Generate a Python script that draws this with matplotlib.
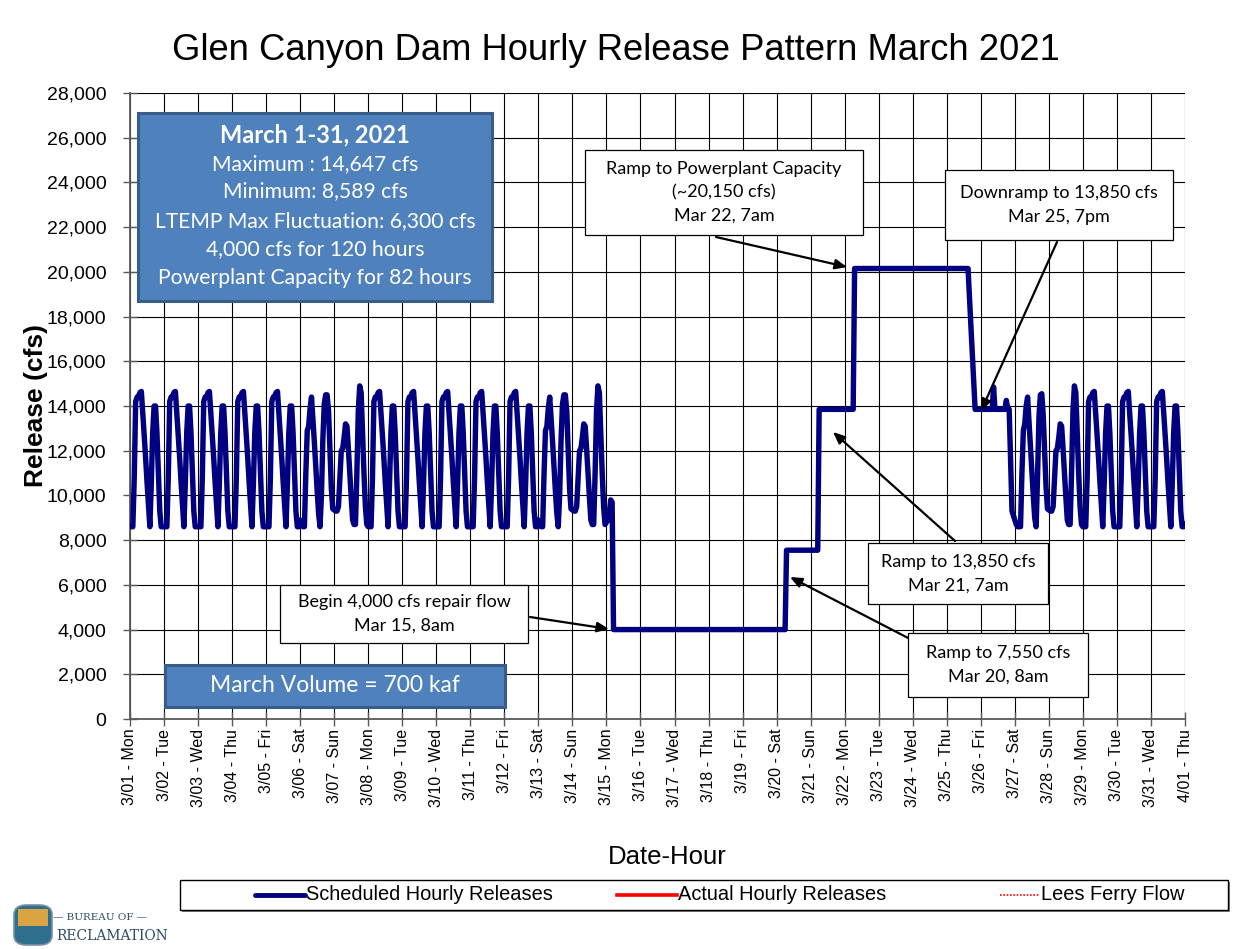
import numpy as np
import matplotlib
matplotlib.use("Agg")
import matplotlib.pyplot as plt
from matplotlib.patches import Rectangle, FancyBboxPatch
from matplotlib.lines import Line2D
from matplotlib import font_manager

W, H = 1250, 949

# ---------------- data ----------------
day_labels = ["3/01 - Mon", "3/02 - Tue", "3/03 - Wed", "3/04 - Thu", "3/05 - Fri",
              "3/06 - Sat", "3/07 - Sun", "3/08 - Mon", "3/09 - Tue", "3/10 - Wed",
              "3/11 - Thu", "3/12 - Fri", "3/13 - Sat", "3/14 - Sun", "3/15 - Mon",
              "3/16 - Tue", "3/17 - Wed", "3/18 - Thu", "3/19 - Fri", "3/20 - Sat",
              "3/21 - Sun", "3/22 - Mon", "3/23 - Tue", "3/24 - Wed", "3/25 - Thu",
              "3/26 - Fri", "3/27 - Sat", "3/28 - Sun", "3/29 - Mon", "3/30 - Tue",
              "3/31 - Wed", "4/01 - Thu"]
y_ticks = list(range(0, 28001, 2000))

# hourly scheduled releases (cfs), hours 0..23
weekday = [8600, 8600, 8600, 10800, 14200, 14400, 14400, 14600, 14650, 13700, 12700, 11700,
           10600, 9600, 8600, 10500, 12800, 14000, 14000, 12800, 11000, 9300, 8600, 8600]
saturday = [8900, 8700, 8600, 8600, 11000, 12900, 13100, 13900, 14400, 13400, 12400, 11300,
            10200, 9200, 8600, 10000, 12500, 14100, 14500, 14500, 13800, 12000, 10300, 9400]
sunday = [9350, 9300, 9300, 9500, 10800, 12000, 12100, 12600, 13200, 13100, 12100, 11000,
          9900, 8900, 8700, 8700, 11000, 13800, 14900, 14600, 12800, 11000, 9500, 8700]
mar15 = [8800, 8900, 9200, 9800, 9700, 4000, 4000, 4000, 4000, 4000, 4000, 4000,
         4000, 4000, 4000, 4000, 4000, 4000, 4000, 4000, 4000, 4000, 4000, 4000]
repair_day = [4000] * 24
mar20 = [4000] * 7 + [7550] * 17
mar21 = [7550] * 6 + [13850] * 18
mar22 = [13850] * 7 + [20150] * 17
capacity_day = [20150] * 24
mar25 = [20150] * 16 + [18900, 17600, 16300, 15100, 13850, 13850, 13850, 13850]
mar26 = [13850, 13850, 13850, 13850, 13850, 13850, 13850, 13850, 13850, 14850, 13850, 13850,
         13850, 13850, 13850, 13850, 13850, 13850, 14250, 13900, 13850, 11500, 9300, 9100]
mar27 = [8900, 8700, 8600, 8600, 8600, 11000, 12900, 13200, 14000, 14400, 13300, 12200,
         11100, 10000, 9000, 8600, 10800, 13500, 14500, 14550, 13600, 12000, 10400, 9400]
apr01_midnight = [8700]

daily_schedule = ([weekday] * 5 + [saturday, sunday] + [weekday] * 5 + [saturday, sunday] +
                  [mar15] + [repair_day] * 4 + [mar20, mar21, mar22] + [capacity_day] * 2 +
                  [mar25, mar26, mar27, sunday] + [weekday] * 3)

releases = np.concatenate([np.array(d, dtype=float) for d in daily_schedule] +
                          [np.array(apr01_midnight, dtype=float)])
hours = np.arange(len(releases))
days = hours / 24.0

legend_labels = ["Scheduled Hourly Releases", "Actual Hourly Releases", "Lees Ferry Flow"]

# ---------------- fonts ----------------
def has_font(name):
    try:
        font_manager.findfont(name, fallback_to_default=False)
        return True
    except Exception:
        return False

ARIAL = "Liberation Sans"
CAL = "Lato" if has_font("Lato") else "DejaVu Sans"
plt.rcParams["font.family"] = [ARIAL, "DejaVu Sans"]

def fx(px):
    return px / W

def fy(py):
    return 1 - py / H

# ---------------- figure ----------------
fig = plt.figure(figsize=(W / 100, H / 100), dpi=100)
fig.patch.set_facecolor("white")

ax = fig.add_axes([fx(130), fy(719), (1185 - 130) / W, (719 - 93) / H])
ax.plot(days, releases, color="#000080", lw=3.9, solid_joinstyle="round", zorder=3)

ax.set_xlim(0, 31)
ax.set_ylim(0, 28000)
ax.set_xticks(range(len(day_labels)))
ax.set_xticklabels(day_labels, rotation=90, fontsize=11.5)
ax.set_yticks(y_ticks)
ax.set_yticklabels([f"{v:,}" for v in y_ticks], fontsize=14)
ax.grid(True, color="black", lw=0.8, zorder=1)
ax.set_axisbelow(True)
for s in ["top", "right"]:
    ax.spines[s].set_visible(False)
for s in ["left", "bottom"]:
    ax.spines[s].set_color("#595959")
    ax.spines[s].set_linewidth(1.3)
ax.tick_params(axis="both", direction="inout", length=10, width=1, color="#595959")
ax.tick_params(axis="x", pad=2)
ax.tick_params(axis="y", pad=12)
ax.set_ylabel("Release (cfs)", fontsize=19, fontweight="bold", labelpad=-1)

fig.text(fx(616), fy(50), "Glen Canyon Dam Hourly Release Pattern March 2021",
         ha="center", va="center", fontsize=26.2)
fig.text(fx(667), fy(857), "Date-Hour", ha="center", va="center", fontsize=18.5)

# ---------------- summary box ----------------
blue = "#4F81BD"
fig.patches.append(Rectangle((fx(138), fy(301)), fx(492) - fx(138), fy(113) - fy(301),
                             transform=fig.transFigure, facecolor=blue, edgecolor="#385D8A",
                             lw=2.2, zorder=5))
box_lines = [("March 1-31, 2021", 135, "bold", 17),
             ("Maximum : 14,647 cfs", 164, "normal", 15.2),
             ("Minimum: 8,589 cfs", 191, "normal", 15.2),
             ("LTEMP Max Fluctuation: 6,300 cfs", 221, "normal", 15.2),
             ("4,000 cfs for 120 hours", 249, "normal", 15.2),
             ("Powerplant Capacity for 82 hours", 278, "normal", 15.2)]
for txt, py, wt, fs in box_lines:
    fig.text(fx(315), fy(py), txt, ha="center", va="center", color="white",
             fontsize=fs, fontweight=wt, family=CAL, zorder=6)

fig.patches.append(Rectangle((fx(165), fy(707)), fx(505) - fx(165), fy(665) - fy(707),
                             transform=fig.transFigure, facecolor=blue, edgecolor="#385D8A",
                             lw=2.2, zorder=5))
fig.text(fx(335), fy(686), "March Volume = 700 kaf", ha="center", va="center",
         color="white", fontsize=16.5, family=CAL, zorder=6)

# ---------------- annotation boxes ----------------
ann_boxes = [
    ((585, 150, 863, 235), ["Ramp to Powerplant Capacity", "(~20,150 cfs)", "Mar 22, 7am"],
     (716, 237), (847, 267)),
    ((945, 170, 1173, 240), ["Downramp to 13,850 cfs", "Mar 25, 7pm"],
     (1057, 242), (981, 411)),
    ((868, 543, 1048, 604), ["Ramp to 13,850 cfs", "Mar 21, 7am"],
     (955, 541), (833, 432)),
    ((908, 633, 1088, 697), ["Ramp to 7,550 cfs", "Mar 20, 8am"],
     (912, 640), (790, 577)),
    ((280, 585, 528, 643), ["Begin 4,000 cfs repair flow", "Mar 15, 8am"],
     (530, 617), (609, 629)),
]
for (x0, y0, x1, y1), lines, start, tip in ann_boxes:
    fig.patches.append(Rectangle((fx(x0), fy(y1)), fx(x1) - fx(x0), fy(y0) - fy(y1),
                                 transform=fig.transFigure, facecolor="white",
                                 edgecolor="black", lw=0.9, zorder=5))
    n = len(lines)
    cy = (y0 + y1) / 2
    step = 23.5
    for i, t in enumerate(lines):
        py = cy + (i - (n - 1) / 2) * step
        fig.text(fx((x0 + x1) / 2), fy(py), t, ha="center", va="center",
                 fontsize=13, family=CAL, zorder=6)
    ax.annotate("", xy=(fx(tip[0]), fy(tip[1])), xycoords="figure fraction",
                xytext=(fx(start[0]), fy(start[1])), textcoords="figure fraction",
                arrowprops=dict(arrowstyle="-|>,head_length=0.7,head_width=0.3",
                                color="black", lw=1.6, shrinkA=0, shrinkB=0),
                zorder=7, annotation_clip=False)

# ---------------- legend (drawn by hand to match layout) ----------------
fig.patches.append(Rectangle((fx(182), fy(912)), fx(1230) - fx(182), fy(882) - fy(912),
                             transform=fig.transFigure, facecolor="#808080",
                             edgecolor="none", zorder=4))
fig.patches.append(Rectangle((fx(180), fy(910)), fx(1228) - fx(180), fy(880) - fy(910),
                             transform=fig.transFigure, facecolor="white",
                             edgecolor="black", lw=1.0, zorder=5))
legend_items = [
    (255, 305, dict(color="#000080", lw=3.5, solid_capstyle="round")),
    (617, 677, dict(color="#FF0000", lw=2.6)),
    (1000, 1040, dict(color="#FF0000", lw=1.2, ls=(0, (1, 1)))),
]
for (lx0, lx1, style), lab in zip(legend_items, legend_labels):
    fig.lines.append(Line2D([fx(lx0), fx(lx1)], [fy(895), fy(895)],
                            transform=fig.transFigure, zorder=6, **style))
    fig.text(fx(lx1 + 1), fy(895), lab, ha="left", va="center", fontsize=14.4,
             zorder=6)

# ---------------- logo ----------------
fig.patches.append(FancyBboxPatch((fx(14), fy(945)), fx(52) - fx(14), fy(905) - fy(945),
                                  boxstyle="round,pad=0,rounding_size=0.01",
                                  transform=fig.transFigure, facecolor="#2E6F8E",
                                  edgecolor="#7A8FA6", lw=1.2))
fig.patches.append(Rectangle((fx(18), fy(926)), fx(48) - fx(18), fy(909) - fy(926),
                             transform=fig.transFigure, facecolor="#D9A441", edgecolor="none"))
fig.text(fx(100), fy(917), "— BUREAU OF —", ha="center", va="center", fontsize=7.5,
         color="#2B4A66", family="DejaVu Serif")
fig.text(fx(112), fy(936), "RECLAMATION", ha="center", va="center", fontsize=10,
         color="#2B4A66", family="DejaVu Serif")

fig.savefig("out.png", dpi=100, facecolor="white")
